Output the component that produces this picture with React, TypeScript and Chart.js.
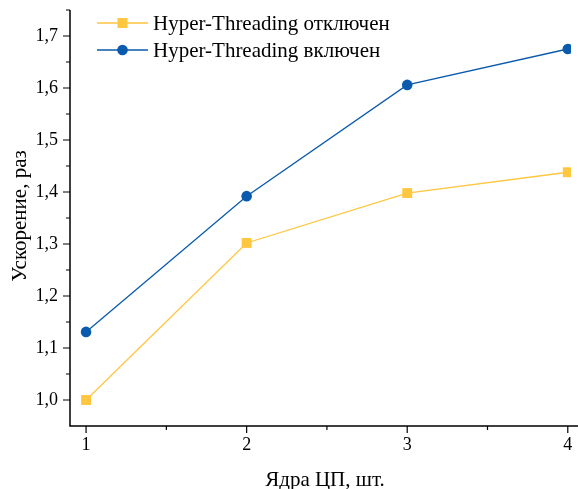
import React, { useEffect, useRef } from "react";
import { Chart, registerables } from "chart.js";
Chart.register(...registerables);

const cores = [1, 2, 3, 4];
const htOff = [1.0, 1.302, 1.398, 1.438];
const htOn = [1.131, 1.392, 1.606, 1.675];
const labelOff = "Hyper-Threading отключен";
const labelOn = "Hyper-Threading включен";
const xTitle = "Ядра ЦП, шт.";
const yTitle = "Ускорение, раз";
const xMajor = [1, 2, 3, 4];
const xMinor = [1.5, 2.5, 3.5];
const yMajor = [1.0, 1.1, 1.2, 1.3, 1.4, 1.5, 1.6, 1.7];
const yMinor = [1.05, 1.15, 1.25, 1.35, 1.45, 1.55, 1.65, 1.75];

const ORANGE = "#FFC640";
const BLUE = "#0A5AAE";
const SERIF = "'Liberation Serif', 'Times New Roman', serif";

const decor = {
  id: "decor",
  afterDraw(chart: any) {
    const ctx = chart.ctx;
    const x = chart.scales.x;
    const y = chart.scales.y;
    const ca = chart.chartArea;
    ctx.save();
    ctx.strokeStyle = "#000";
    ctx.lineWidth = 1.5;
    ctx.beginPath();
    ctx.moveTo(ca.left, ca.top);
    ctx.lineTo(ca.left, ca.bottom);
    ctx.lineTo(chart.width, ca.bottom);
    ctx.stroke();
    ctx.lineWidth = 1.2;
    ctx.beginPath();
    for (const v of xMajor) {
      const p = x.getPixelForValue(v);
      ctx.moveTo(p, ca.bottom);
      ctx.lineTo(p, ca.bottom + 7);
    }
    for (const v of xMinor) {
      const p = x.getPixelForValue(v);
      ctx.moveTo(p, ca.bottom);
      ctx.lineTo(p, ca.bottom + 4);
    }
    for (const v of yMajor) {
      const p = y.getPixelForValue(v);
      ctx.moveTo(ca.left, p);
      ctx.lineTo(ca.left - 7, p);
    }
    for (const v of yMinor) {
      const p = y.getPixelForValue(v);
      ctx.moveTo(ca.left, p);
      ctx.lineTo(ca.left - 4, p);
    }
    ctx.stroke();

    // axis titles
    ctx.fillStyle = "#000";
    ctx.font = `21px ${SERIF}`;
    ctx.textAlign = "center";
    ctx.textBaseline = "middle";
    ctx.fillText(xTitle, 325, 480);
    ctx.save();
    ctx.translate(20, 216);
    ctx.rotate(-Math.PI / 2);
    ctx.fillText(yTitle, 0, 0);
    ctx.restore();

    // legend
    const items = [
      { label: labelOff, color: ORANGE, style: "rect", y: 23 },
      { label: labelOn, color: BLUE, style: "circle", y: 50 },
    ];
    ctx.textAlign = "left";
    for (const it of items) {
      ctx.strokeStyle = it.color;
      ctx.lineWidth = 1.5;
      ctx.beginPath();
      ctx.moveTo(97, it.y);
      ctx.lineTo(148, it.y);
      ctx.stroke();
      ctx.fillStyle = it.color;
      if (it.style === "rect") {
        ctx.fillRect(122.5 - 5, it.y - 5, 10, 10);
      } else {
        ctx.beginPath();
        ctx.arc(122.5, it.y, 5.3, 0, Math.PI * 2);
        ctx.fill();
      }
      ctx.fillStyle = "#000";
      ctx.font = `21px ${SERIF}`;
      ctx.fillText(it.label, 153, it.y + 1);
    }
    ctx.restore();
  },
};

export default function App() {
  const ref = useRef<HTMLCanvasElement>(null);
  useEffect(() => {
    document.body.style.margin = "0";
    const chart = new Chart(ref.current!, {
      type: "line",
      data: {
        datasets: [
          {
            label: labelOff,
            data: cores.map((c, i) => ({ x: c, y: htOff[i] })),
            borderColor: ORANGE,
            backgroundColor: ORANGE,
            borderWidth: 1.3,
            pointStyle: "rect",
            pointRadius: 7,
            pointBorderWidth: 0,
            tension: 0,
          },
          {
            label: labelOn,
            data: cores.map((c, i) => ({ x: c, y: htOn[i] })),
            borderColor: BLUE,
            backgroundColor: BLUE,
            borderWidth: 1.3,
            pointStyle: "circle",
            pointRadius: 5.3,
            pointBorderWidth: 0,
            tension: 0,
          },
        ],
      },
      options: {
        animation: false,
        responsive: false,
        maintainAspectRatio: false,
        layout: { padding: { left: 0, right: 0, top: 10, bottom: 0 } },
        plugins: { legend: { display: false }, tooltip: { enabled: false } },
        scales: {
          x: {
            type: "linear",
            min: 0.9,
            max: 4.02,
            afterBuildTicks: (s: any) => {
              s.ticks = xMajor.map((v) => ({ value: v }));
            },
            afterFit: (s: any) => {
              s.height = 63;
            },
            grid: { display: false },
            border: { display: false },
            ticks: {
              color: "#000",
              font: { family: SERIF, size: 18 },
              padding: 0,
              maxRotation: 0,
              autoSkip: false,
              callback: (v: any) => String(v),
            },
          },
          y: {
            type: "linear",
            min: 0.95,
            max: 1.75,
            afterBuildTicks: (s: any) => {
              s.ticks = yMajor.map((v) => ({ value: v }));
            },
            afterFit: (s: any) => {
              s.width = 70;
              s.paddingTop = 0;
              s.paddingBottom = 0;
            },
            grid: { display: false },
            border: { display: false },
            ticks: {
              color: "#000",
              font: { family: SERIF, size: 18 },
              padding: 4,
              autoSkip: false,
              callback: (v: any) => Number(v).toFixed(1).replace(".", ","),
            },
          },
        },
      },
      plugins: [decor],
    });
    return () => chart.destroy();
  }, []);
  return (
    <div style={{ width: 578, height: 489 }}>
      <canvas ref={ref} width={578} height={489} style={{ display: "block" }} />
    </div>
  );
}
